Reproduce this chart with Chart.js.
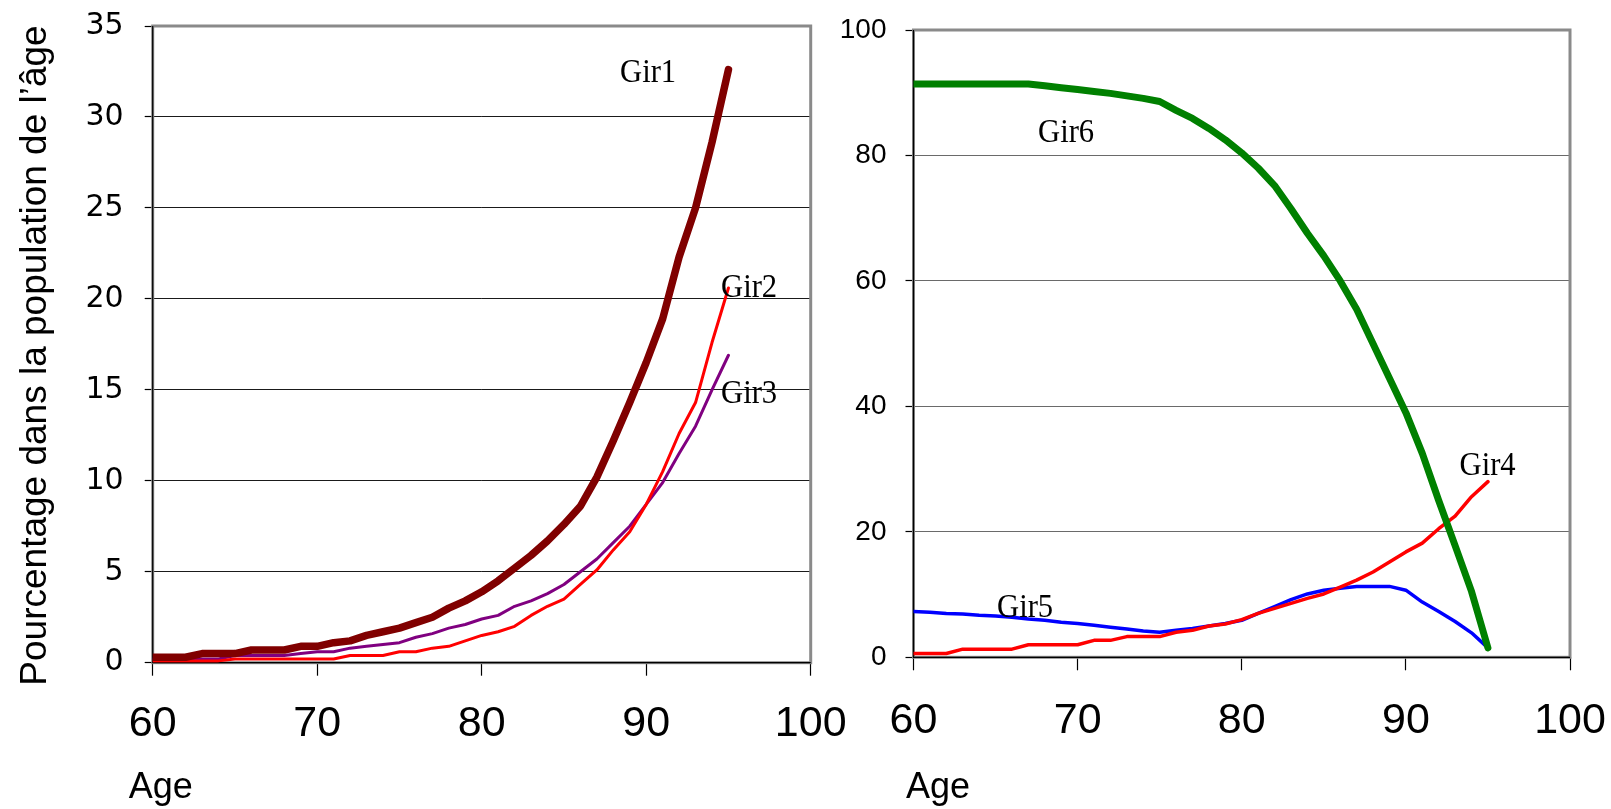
<!DOCTYPE html>
<html>
<head>
<meta charset="utf-8">
<script src="https://cdn.jsdelivr.net/npm/chart.js@4.4.1/dist/chart.umd.min.js"></script>
<style>
html,body{margin:0;padding:0;background:#ffffff;overflow:hidden}
#wrap{position:relative;width:1611px;height:809px}
canvas{position:absolute;left:0;top:0}
</style>
</head>
<body>
<div id="wrap">
<canvas id="c1" width="1611" height="809"></canvas>
<canvas id="c2" width="1611" height="809"></canvas>
</div>
<script>
// ---------- data ----------
const ages = [60,61,62,63,64,65,66,67,68,69,70,71,72,73,74,75,76,77,78,79,80,81,82,83,84,85,86,87,88,89,90,91,92,93,94,95];

const gir1 = [0.3,0.3,0.3,0.5,0.5,0.5,0.7,0.7,0.7,0.9,0.9,1.1,1.2,1.5,1.7,1.9,2.2,2.5,3.0,3.4,3.9,4.5,5.2,5.9,6.7,7.6,8.6,10.2,12.2,14.3,16.5,18.9,22.3,25.0,28.6,32.6];
const gir2 = [0.1,0.1,0.1,0.1,0.1,0.2,0.2,0.2,0.2,0.2,0.2,0.2,0.4,0.4,0.4,0.6,0.6,0.8,0.9,1.2,1.5,1.7,2.0,2.6,3.1,3.5,4.3,5.1,6.2,7.2,8.7,10.5,12.6,14.3,17.6,20.6];
const gir3 = [0.2,0.2,0.2,0.2,0.2,0.4,0.4,0.4,0.4,0.5,0.6,0.6,0.8,0.9,1.0,1.1,1.4,1.6,1.9,2.1,2.4,2.6,3.1,3.4,3.8,4.3,5.0,5.7,6.6,7.5,8.7,9.9,11.5,13.0,15.0,16.9];

const gir4 = [0.6,0.6,0.6,1.3,1.3,1.3,1.3,2.0,2.0,2.0,2.0,2.7,2.7,3.3,3.3,3.3,4.0,4.3,5.0,5.3,6.0,7.0,7.8,8.6,9.4,10.1,11.2,12.3,13.6,15.2,16.8,18.2,20.5,22.5,25.6,28.0];
const gir5 = [7.3,7.2,7.0,6.9,6.7,6.6,6.4,6.1,5.9,5.6,5.4,5.1,4.8,4.5,4.2,4.0,4.3,4.6,5.0,5.4,5.9,7.0,8.1,9.2,10.1,10.7,11.0,11.3,11.3,11.3,10.7,8.8,7.3,5.7,3.9,1.5];
const gir6 = [91.4,91.4,91.4,91.4,91.4,91.4,91.4,91.4,91.1,90.8,90.5,90.2,89.9,89.5,89.1,88.6,87.2,85.9,84.3,82.5,80.4,78.0,75.2,71.5,67.6,64.0,60.0,55.5,50.0,44.5,39.0,32.5,25.0,17.8,10.5,1.5];

const xTicks = [60,70,80,90,100];
const yTicksLeft = [0,5,10,15,20,25,30,35];
const yTicksRight = [0,20,40,60,80,100];

const yTitle = 'Pourcentage dans la population de l\u2019âge';
const xTitle = 'Age';

// series labels anchored in data space (age, value)
const labelsLeft = [
  {text:'Gir1', x:88.41, y:31.92},
  {text:'Gir2', x:94.55, y:20.09},
  {text:'Gir3', x:94.55, y:14.27}
];
const labelsRight = [
  {text:'Gir6', x:67.59, y:82.15},
  {text:'Gir5', x:65.09, y:6.42},
  {text:'Gir4', x:93.27, y:29.0}
];

// ---------- helpers ----------
const SANS = "'Liberation Sans', Arial, sans-serif";
const SANS_WIDE = "'DejaVu Sans', 'Liberation Sans', sans-serif";
const SERIF = "'Liberation Serif', 'Times New Roman', serif";
Chart.defaults.font.family = SANS;
Chart.defaults.color = '#000000';

function pts(vals){ return ages.map((a,i)=>({x:a, y:vals[i]})); }

function ds(label, vals, color, width){
  return {label, data: pts(vals), borderColor: color, backgroundColor: color,
    borderWidth: width, pointRadius: 0, tension: 0, fill: false,
    borderCapStyle: 'round', borderJoinStyle: 'round'};
}

function framePlugin(labels, extra){
  return {
    id: 'frame',
    beforeDatasetsDraw(chart){
      const {ctx, chartArea:a} = chart;
      ctx.save();
      ctx.strokeStyle = '#8a8a8a';
      ctx.lineWidth = 3;
      ctx.strokeRect(a.left, a.top, a.right - a.left, a.bottom - a.top);
      ctx.strokeStyle = '#000000';
      ctx.lineWidth = 1.2;
      ctx.beginPath();
      ctx.moveTo(a.left, a.top);
      ctx.lineTo(a.left, a.bottom);
      ctx.lineTo(a.right, a.bottom);
      ctx.stroke();
      ctx.restore();
    },
    afterDraw(chart){
      const {ctx, chartArea:a, scales} = chart;
      ctx.save();
      ctx.fillStyle = '#000000';
      ctx.font = '34px ' + SERIF;
      ctx.textAlign = 'left';
      ctx.textBaseline = 'alphabetic';
      labels.forEach(l => {
        const px = scales.x.getPixelForValue(l.x);
        const py = scales.y.getPixelForValue(l.y);
        ctx.save();
        ctx.translate(px, py);
        ctx.scale(0.9, 1);
        ctx.fillText(l.text, 0, 0);
        ctx.restore();
      });
      // x axis title
      ctx.font = '36px ' + SANS;
      ctx.fillText(xTitle, a.left + extra.ageDx, extra.ageY);
      if (extra.yTitle){
        ctx.save();
        ctx.font = '37px ' + SANS;
        ctx.textAlign = 'center';
        ctx.translate(extra.yTitleX, extra.yTitleY);
        ctx.rotate(-Math.PI/2);
        ctx.fillText(yTitle, 0, 0);
        ctx.restore();
      }
      ctx.restore();
    }
  };
}

function makeChart(id, datasets, cfg){
  return new Chart(document.getElementById(id), {
    type: 'line',
    data: {datasets},
    options: {
      responsive: false,
      animation: false,
      devicePixelRatio: 1,
      layout: {padding: {left: 0, top: cfg.top, right: cfg.right, bottom: 0}},
      plugins: {legend: {display: false}, tooltip: {enabled: false}},
      scales: {
        x: {
          type: 'linear', min: 60, max: 100,
          afterBuildTicks: s => { s.ticks = xTicks.map(v => ({value: v})); },
          afterFit: s => { s.height = cfg.xHeight; s.paddingLeft = 0; s.paddingRight = 0; },
          ticks: {font: {size: 43}, padding: cfg.xPad, color: '#000', maxRotation: 0, autoSkip: false},
          grid: {drawOnChartArea: false, drawTicks: true, tickLength: 13, tickColor: '#000', tickWidth: 1.2},
          border: {display: false}
        },
        y: {
          type: 'linear', min: 0, max: cfg.yMax,
          afterBuildTicks: s => { s.ticks = cfg.yTicks.map(v => ({value: v})); },
          afterFit: s => { s.width = cfg.yWidth; s.paddingTop = 0; s.paddingBottom = 0; },
          ticks: {font: cfg.yFont, padding: cfg.yPad, color: '#000', autoSkip: false},
          grid: {color: cfg.gridColor, lineWidth: 1, drawTicks: true, tickLength: 8, tickColor: '#000', tickWidth: 1.2},
          border: {display: false}
        }
      }
    },
    plugins: [framePlugin(cfg.labels, cfg.extra)]
  });
}

// left chart
makeChart('c1', [
  ds('Gir1', gir1, '#800000', 7.5),
  ds('Gir2', gir2, '#ff0000', 3),
  ds('Gir3', gir3, '#800080', 3)
], {
  top: 26, right: 1611 - 810.7, xHeight: 809 - 662.7, yWidth: 152.7,
  xPad: 23, yPad: 21, yMax: 35, yTicks: yTicksLeft, gridColor: '#1a1a1a',
  yFont: {size: 30, family: SANS_WIDE},
  labels: labelsLeft,
  extra: {ageDx: -24, ageY: 798, yTitle: true, yTitleX: 46, yTitleY: 355.5}
});

// right chart
makeChart('c2', [
  ds('Gir6', gir6, '#008000', 7),
  ds('Gir4', gir4, '#ff0000', 3.5),
  ds('Gir5', gir5, '#0000ff', 3.5)
], {
  top: 30, right: 1611 - 1570, xHeight: 809 - 657.3, yWidth: 913.5,
  xPad: 25, yPad: 19, yMax: 100, yTicks: yTicksRight, gridColor: '#6a6a6a',
  yFont: {size: 28, family: SANS},
  labels: labelsRight,
  extra: {ageDx: -7.5, ageY: 798, yTitle: false}
});
</script>
</body>
</html>
